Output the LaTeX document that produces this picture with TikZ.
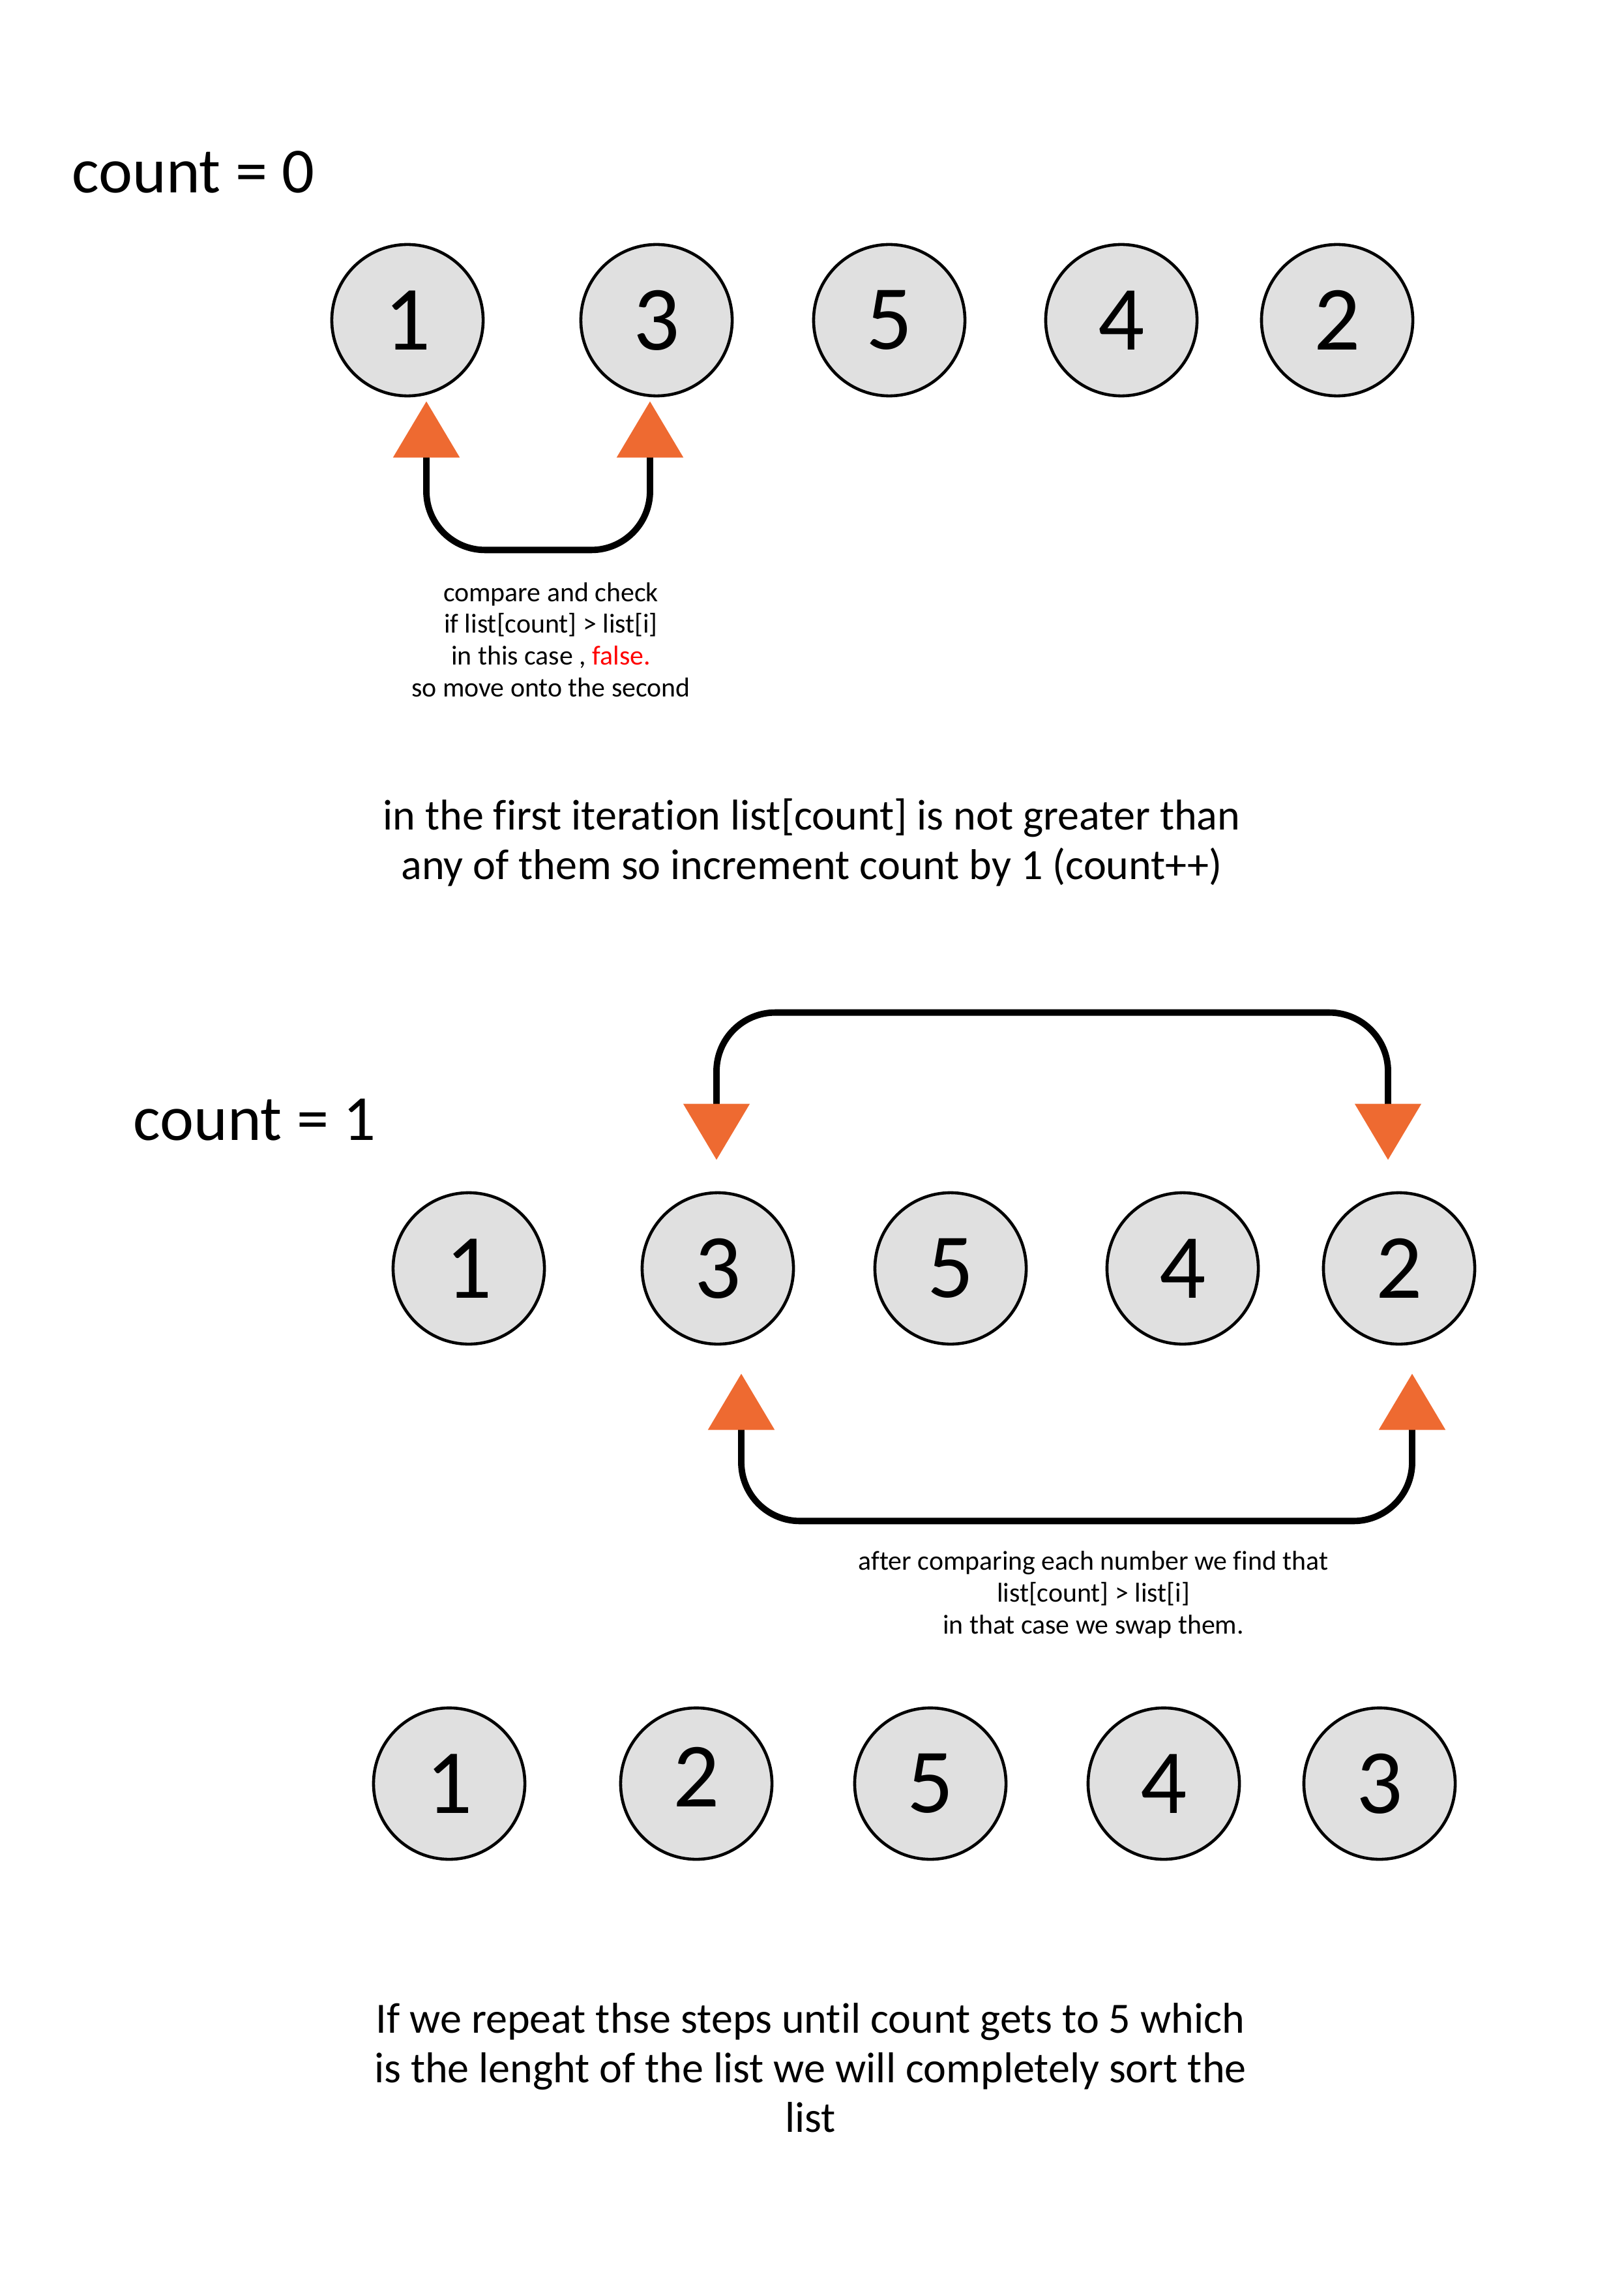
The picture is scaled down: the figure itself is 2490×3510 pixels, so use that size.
\documentclass[tikz,border=0pt]{standalone}
\usepackage{fontspec}
\setmainfont{Carlito}[Ligatures=CommonOff]
\usepackage{tikz}
\usetikzlibrary{arrows.meta}
\definecolor{ballgray}{HTML}{E0E0E0}
\definecolor{tiporange}{HTML}{EE6A31}

\begin{document}
\begin{tikzpicture}[x=0.01cm, y=-0.01cm,
  ball/.style={draw, circle, fill=ballgray, line width=1.3pt, minimum size=2.32cm, inner sep=0pt, font=\fontsize{40}{48}\selectfont},
  swap/.style={line width=2.8pt, rounded corners=0.9cm, {Triangle[width=28.4pt,length=24.5pt,color=tiporange]}-{Triangle[width=28.4pt,length=24.5pt,color=tiporange]}},
  head/.style={anchor=west, inner sep=0pt, font=\fontsize{28}{34}\selectfont},
  note/.style={align=center, font=\fontsize{11.9}{13.9}\selectfont},
  big/.style={align=center, font=\fontsize{18.8}{21.6}\selectfont}]
\useasboundingbox (0,0) rectangle (2490,3510);

% count = 0
\node[head] (h0) at (110,264) {count = 0};
\node[ball] (n01) at (625,491) {1};
\node[ball] (n02) at (1007,491) {3};
\node[ball] (n03) at (1364,491) {5};
\node[ball] (n04) at (1720,491) {4};
\node[ball] (n05) at (2051,491) {2};
\draw[swap] ([shift={(29,6)}]n01.south) -- ++(0,228) -| ([shift={(-10,6)}]n02.south);
\node[note] (t0) at (845,981) {compare and check\\ if list[count] > list[i]\\ in this case , \textcolor{red}{false.}\\ so move onto the second};
\node[big] (s0) at (1245,1292) {in the first iteration list[count] is not greater than\\ any of them so increment count by 1 (count++)};

% count = 1
\node[head] (h1) at (204,1717) {count = 1};
\node[ball] (n11) at (719,1945) {1};
\node[ball] (n12) at (1101,1945) {3};
\node[ball] (n13) at (1458,1945) {5};
\node[ball] (n14) at (1814,1945) {4};
\node[ball] (n15) at (2146,1945) {2};
\draw[swap] ([shift={(-2,-48)}]n12.north) -- ++(0,-226) -| ([shift={(-17,-48)}]n15.north);
\draw[swap] ([shift={(36,43)}]n12.south) -- ++(0,226) -| ([shift={(20,43)}]n15.south);
\node[note] (t1) at (1677,2445) {after comparing each number we find that\\ list[count] > list[i]\\ in that case we swap them.};

% after the swap
\node[ball] (n21) at (689,2735) {1};
\node[ball] (n22) at (1068,2735) {\raisebox{5.7pt}{2}};
\node[ball] (n23) at (1427,2735) {5};
\node[ball] (n24) at (1785,2735) {4};
\node[ball] (n25) at (2116,2735) {3};
\node[big] (s1) at (1243,3171) {If we repeat thse steps until count gets to 5 which\\ is the lenght of the list we will completely sort the\\ list};
\end{tikzpicture}
\end{document}
